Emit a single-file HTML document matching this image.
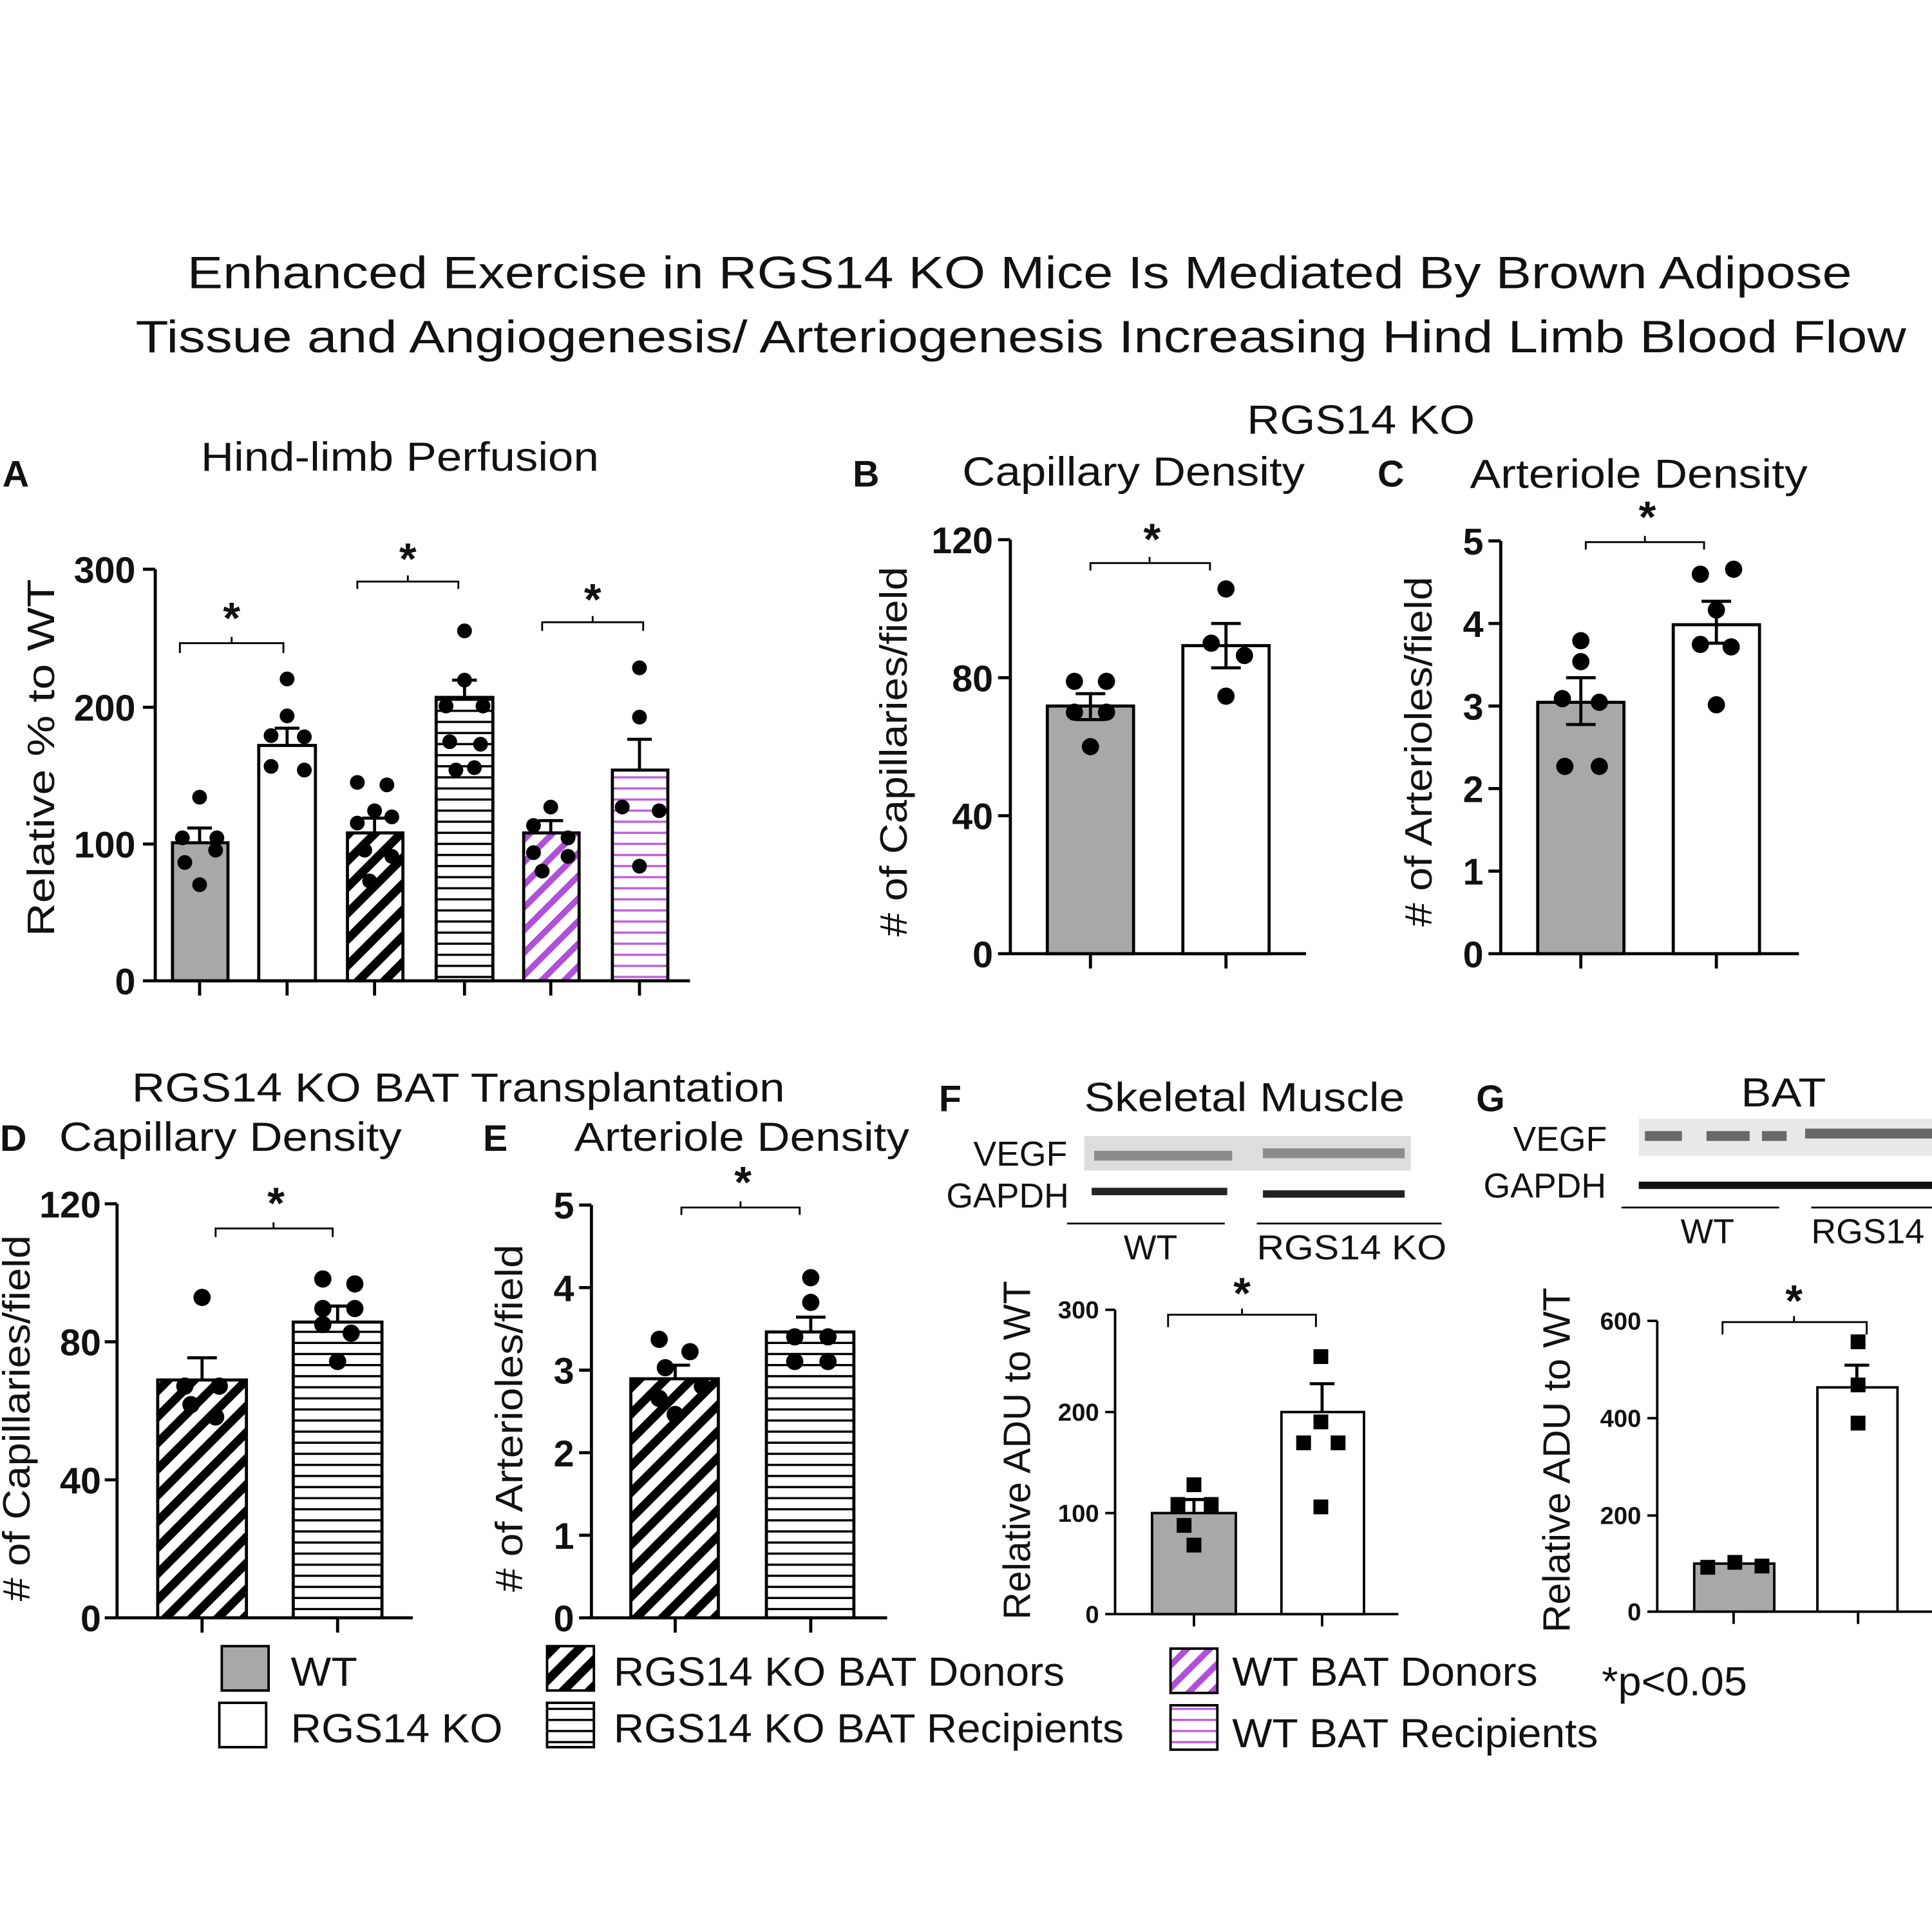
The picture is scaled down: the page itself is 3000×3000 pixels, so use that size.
<!DOCTYPE html>
<html><head><meta charset="utf-8"><style>
html,body{margin:0;padding:0;background:#fff}
svg{display:block}
text{font-family:"Liberation Sans",Arial,sans-serif;fill:#111}
</style></head><body>
<svg width="3000" height="3000" viewBox="0 0 1568 1568" xmlns="http://www.w3.org/2000/svg">
<defs>
<pattern id="diag" patternUnits="userSpaceOnUse" width="15" height="15" patternTransform="rotate(45)">
<rect width="15" height="15" fill="#fff"/><rect width="7" height="15" fill="#000"/></pattern>
<pattern id="horiz" patternUnits="userSpaceOnUse" width="10" height="9">
<rect width="10" height="9" fill="#fff"/><rect y="0" width="10" height="1.8" fill="#000"/></pattern>
<pattern id="pdiag" patternUnits="userSpaceOnUse" width="13" height="13" patternTransform="rotate(45)">
<rect width="13" height="13" fill="#fff"/><rect width="5" height="13" fill="#b04fd8"/></pattern>
<pattern id="phoriz" patternUnits="userSpaceOnUse" width="10" height="9">
<rect width="10" height="9" fill="#fff"/><rect width="10" height="1.8" fill="#c060e0"/></pattern>
</defs>
<g font-size="37" lengthAdjust="spacingAndGlyphs">
<text x="152" y="234" textLength="1351" lengthAdjust="spacingAndGlyphs">Enhanced Exercise in RGS14 KO Mice Is Mediated By Brown Adipose</text>
<text x="110" y="286" textLength="1437" lengthAdjust="spacingAndGlyphs">Tissue and  Angiogenesis/ Arteriogenesis Increasing Hind Limb Blood Flow</text>
</g>
<g font-size="33">
<text x="163" y="382" textLength="323" lengthAdjust="spacingAndGlyphs">Hind-limb Perfusion</text>
<text x="1012" y="352" textLength="185" lengthAdjust="spacingAndGlyphs">RGS14 KO</text>
<text x="781" y="394" textLength="278" lengthAdjust="spacingAndGlyphs">Capillary Density</text>
<text x="1193" y="396" textLength="274" lengthAdjust="spacingAndGlyphs">Arteriole Density</text>
<text x="107" y="894" textLength="530" lengthAdjust="spacingAndGlyphs">RGS14 KO BAT Transplantation</text>
<text x="48" y="934" textLength="278" lengthAdjust="spacingAndGlyphs">Capillary Density</text>
<text x="466" y="934" textLength="272" lengthAdjust="spacingAndGlyphs">Arteriole Density</text>
<text x="880" y="902" textLength="260" lengthAdjust="spacingAndGlyphs">Skeletal Muscle</text>
<text x="1413" y="898" textLength="69" lengthAdjust="spacingAndGlyphs">BAT</text>
</g>
<g font-size="30" font-weight="bold">
<text x="2" y="395">A</text><text x="692" y="395">B</text><text x="1118" y="395">C</text>
<text x="0" y="934">D</text><text x="392" y="934">E</text><text x="762" y="902">F</text><text x="1198" y="902">G</text>
</g>
<g stroke="#000" stroke-width="2.5" fill="none">
<path d="M126 462V796H560M116 462H126M116 574H126M116 685H126M116 796H126M162 796V808M233 796V808M304 796V808M377 796V808M447 796V808M519 796V808"/>
<path d="M820 438V774M810 438H820M810 550H820M810 662H820M810 774H820M820 774H1060M885 774V786M995 774V786"/>
<path d="M1218 439V774M1208 439H1218M1208 506H1218M1208 573H1218M1208 640H1218M1208 707H1218M1208 774H1218M1218 774H1460M1283 774V786M1393 774V786"/>
<path d="M95 977V1313M85 977H95M85 1089H95M85 1201H95M85 1313H95M95 1313H335M164 1313V1325M274 1313V1325"/>
<path d="M480 978V1313M470 978H480M470 1045H480M470 1112H480M470 1179H480M470 1246H480M470 1313H480M480 1313H720M548 1313V1325M658 1313V1325"/>
<path stroke-width="2" d="M905 1063V1310M897 1063H905M897 1146H905M897 1228H905M897 1310H905M905 1310H1135M969 1310V1320M1073 1310V1320"/>
<path stroke-width="2" d="M1345 1072V1308M1337 1072H1345M1337 1151H1345M1337 1230H1345M1337 1308H1345M1345 1308H1568M1407 1308V1318M1508 1308V1318"/>
<path stroke-width="1.5" d="M146 530V522H230V530M188 522V517M290 478V472H372V478M331 472V467M440 512V505H522V512M481 505V500M885 463V457H982V463M933 457V452M1287 446V440H1383V446M1335 440V435M175 1004V997H270V1004M222 997V992M553 986V980H649V986M601 980V975M948 1077V1067H1068V1077M1008 1067V1062M1398 1083V1073H1515V1083M1456 1073V1068"/>
<path stroke-width="1.5" d="M866 993H994M1020 993H1170M1316 980H1444M1470 980H1568"/>
</g>
<g font-size="30" font-weight="bold" text-anchor="end">
<text x="110" y="473">300</text><text x="110" y="585">200</text><text x="110" y="696">100</text><text x="110" y="807">0</text>
<text x="806" y="449">120</text><text x="806" y="561">80</text><text x="806" y="673">40</text><text x="806" y="785">0</text>
<text x="1204" y="450">5</text><text x="1204" y="517">4</text><text x="1204" y="584">3</text><text x="1204" y="651">2</text><text x="1204" y="718">1</text><text x="1204" y="785">0</text>
<text x="82" y="988">120</text><text x="82" y="1100">80</text><text x="82" y="1212">40</text><text x="82" y="1324">0</text>
<text x="466" y="989">5</text><text x="466" y="1056">4</text><text x="466" y="1123">3</text><text x="466" y="1190">2</text><text x="466" y="1257">1</text><text x="466" y="1324">0</text>
</g>
<g font-size="20" font-weight="bold" text-anchor="end">
<text x="892" y="1070">300</text><text x="892" y="1153">200</text><text x="892" y="1235">100</text><text x="892" y="1317">0</text>
<text x="1332" y="1079">600</text><text x="1332" y="1158">400</text><text x="1332" y="1237">200</text><text x="1332" y="1315">0</text>
</g>
<g font-size="31" text-anchor="middle">
<text transform="translate(44 615) rotate(-90)" textLength="290" lengthAdjust="spacingAndGlyphs">Relative % to WT</text>
<text transform="translate(736 610) rotate(-90)" textLength="300" lengthAdjust="spacingAndGlyphs"># of Capillaries/field</text>
<text transform="translate(1162 610) rotate(-90)" textLength="284" lengthAdjust="spacingAndGlyphs"># of Arterioles/field</text>
<text transform="translate(24 1151) rotate(-90)" textLength="297" lengthAdjust="spacingAndGlyphs"># of Capillaries/field</text>
<text transform="translate(424 1151) rotate(-90)" textLength="282" lengthAdjust="spacingAndGlyphs"># of Arterioles/field</text>
<text transform="translate(836 1177) rotate(-90)" textLength="275" lengthAdjust="spacingAndGlyphs">Relative ADU to WT</text>
<text transform="translate(1274 1185) rotate(-90)" textLength="280" lengthAdjust="spacingAndGlyphs">Relative ADU to WT</text>
</g>
<g font-size="36" font-weight="bold" text-anchor="middle">
<text x="188" y="514">*</text><text x="331" y="466">*</text><text x="481" y="499">*</text>
<text x="935" y="450">*</text><text x="1337" y="432">*</text><text x="224" y="989">*</text><text x="603" y="972">*</text>
<text x="1008" y="1062">*</text><text x="1456" y="1068">*</text>
</g>
<g stroke="#000" stroke-width="2.5">
<rect x="140" y="684" width="45" height="112" fill="#a8a8a8"/>
<rect x="210" y="605" width="46" height="191" fill="#fff"/>
<rect x="282" y="676" width="45" height="120" fill="url(#diag)"/>
<rect x="354" y="566" width="46" height="230" fill="url(#horiz)"/>
<rect x="425" y="676" width="45" height="120" fill="url(#pdiag)"/>
<rect x="497" y="625" width="45" height="171" fill="url(#phoriz)"/>
<rect x="850" y="573" width="70" height="201" fill="#a8a8a8"/>
<rect x="960" y="524" width="70" height="250" fill="#fff"/>
<rect x="1248" y="570" width="70" height="204" fill="#a8a8a8"/>
<rect x="1358" y="507" width="70" height="267" fill="#fff"/>
<rect x="128" y="1120" width="72" height="193" fill="url(#diag)"/>
<rect x="238" y="1073" width="72" height="240" fill="url(#horiz)"/>
<rect x="512" y="1119" width="71" height="194" fill="url(#diag)"/>
<rect x="622" y="1081" width="71" height="232" fill="url(#horiz)"/>
<rect x="935" y="1228" width="68" height="82" fill="#a8a8a8" stroke-width="2"/>
<rect x="1040" y="1146" width="67" height="164" fill="#fff" stroke-width="2"/>
<rect x="1375" y="1269" width="65" height="39" fill="#a8a8a8" stroke-width="2"/>
<rect x="1475" y="1126" width="65" height="182" fill="#fff" stroke-width="2"/>
</g>
<g stroke="#000" stroke-width="2.5" fill="none">
<path d="M162 684V672M152 672H172M233 605V591M223 591H243M304 676V664M294 664H314M377 566V552M367 552H387M447 676V666M437 666H457M519 625V600M509 600H529"/>
<path d="M885 573V563M873 563H897M885 573V584M873 584H897M995 524V506M983 506H1007M995 524V542M983 542H1007"/>
<path d="M1283 570V550M1271 550H1295M1283 570V588M1271 588H1295M1393 507V488M1381 488H1405M1393 507V522M1381 522H1405"/>
<path d="M164 1120V1102M152 1102H176M274 1073V1060M262 1060H286M548 1119V1108M536 1108H560M658 1081V1069M646 1069H670"/>
<path d="M969 1228V1217M959 1217H979M1073 1146V1123M1063 1123H1083M1507 1126V1108M1497 1108H1517"/>
</g>
<g fill="#000">
<circle cx="162" cy="647" r="6"/><circle cx="148" cy="680" r="6"/><circle cx="176" cy="680" r="6"/><circle cx="150" cy="700" r="6"/><circle cx="175" cy="690" r="6"/><circle cx="162" cy="718" r="6"/>
<circle cx="233" cy="551" r="6"/><circle cx="220" cy="597" r="6"/><circle cx="247" cy="598" r="6"/><circle cx="220" cy="622" r="6"/><circle cx="247" cy="625" r="6"/><circle cx="233" cy="581" r="6"/>
<circle cx="290" cy="635" r="6"/><circle cx="314" cy="637" r="6"/><circle cx="304" cy="658" r="6"/><circle cx="290" cy="668" r="6"/><circle cx="318" cy="663" r="6"/><circle cx="296" cy="690" r="6"/><circle cx="318" cy="695" r="6"/><circle cx="300" cy="715" r="6"/>
<circle cx="377" cy="512" r="6"/><circle cx="377" cy="552" r="6"/><circle cx="362" cy="573" r="6"/><circle cx="392" cy="573" r="6"/><circle cx="365" cy="602" r="6"/><circle cx="390" cy="604" r="6"/><circle cx="370" cy="625" r="6"/><circle cx="385" cy="623" r="6"/>
<circle cx="447" cy="655" r="6"/><circle cx="433" cy="670" r="6"/><circle cx="461" cy="680" r="6"/><circle cx="433" cy="692" r="6"/><circle cx="461" cy="695" r="6"/><circle cx="440" cy="707" r="6"/>
<circle cx="519" cy="542" r="6"/><circle cx="519" cy="582" r="6"/><circle cx="505" cy="655" r="6"/><circle cx="535" cy="658" r="6"/><circle cx="519" cy="703" r="6"/>
<circle cx="872" cy="553" r="7"/><circle cx="898" cy="553" r="7"/><circle cx="872" cy="578" r="7"/><circle cx="898" cy="578" r="7"/><circle cx="885" cy="606" r="7"/>
<circle cx="995" cy="478" r="7"/><circle cx="983" cy="522" r="7"/><circle cx="1010" cy="532" r="7"/><circle cx="995" cy="565" r="7"/>
<circle cx="1283" cy="520" r="7"/><circle cx="1283" cy="537" r="7"/><circle cx="1268" cy="567" r="7"/><circle cx="1298" cy="570" r="7"/><circle cx="1270" cy="622" r="7"/><circle cx="1298" cy="622" r="7"/>
<circle cx="1380" cy="466" r="7"/><circle cx="1407" cy="462" r="7"/><circle cx="1393" cy="495" r="7"/><circle cx="1380" cy="523" r="7"/><circle cx="1405" cy="525" r="7"/><circle cx="1393" cy="572" r="7"/>
<circle cx="164" cy="1053" r="7"/><circle cx="150" cy="1125" r="7"/><circle cx="178" cy="1125" r="7"/><circle cx="155" cy="1140" r="7"/><circle cx="175" cy="1150" r="7"/>
<circle cx="262" cy="1038" r="7"/><circle cx="288" cy="1042" r="7"/><circle cx="262" cy="1062" r="7"/><circle cx="288" cy="1062" r="7"/><circle cx="262" cy="1075" r="7"/><circle cx="285" cy="1082" r="7"/><circle cx="274" cy="1105" r="7"/>
<circle cx="535" cy="1087" r="7"/><circle cx="560" cy="1097" r="7"/><circle cx="540" cy="1110" r="7"/><circle cx="570" cy="1125" r="7"/><circle cx="535" cy="1135" r="7"/><circle cx="548" cy="1148" r="7"/>
<circle cx="658" cy="1037" r="7"/><circle cx="658" cy="1057" r="7"/><circle cx="645" cy="1085" r="7"/><circle cx="672" cy="1085" r="7"/><circle cx="645" cy="1105" r="7"/><circle cx="672" cy="1105" r="7"/>
<rect x="963" y="1199" width="12" height="12"/><rect x="950" y="1215" width="12" height="12"/><rect x="977" y="1215" width="12" height="12"/><rect x="955" y="1232" width="12" height="12"/><rect x="963" y="1248" width="12" height="12"/>
<rect x="1066" y="1095" width="12" height="12"/><rect x="1066" y="1148" width="12" height="12"/><rect x="1052" y="1165" width="12" height="12"/><rect x="1080" y="1165" width="12" height="12"/><rect x="1066" y="1217" width="12" height="12"/>
<rect x="1380" y="1266" width="12" height="12"/><rect x="1402" y="1262" width="12" height="12"/><rect x="1424" y="1265" width="12" height="12"/>
<rect x="1502" y="1083" width="12" height="12"/><rect x="1502" y="1118" width="12" height="12"/><rect x="1502" y="1149" width="12" height="12"/>
</g>
<rect x="880" y="922" width="265" height="28" fill="#ddd"/>
<path d="M888 938H1000M1025 936H1140" stroke="#555" stroke-width="8" opacity="0.6"/>
<path d="M886 967H996M1025 969H1140" stroke="#222" stroke-width="6"/>
<rect x="1330" y="908" width="238" height="30" fill="#e8e8e8"/>
<path d="M1335 922H1365M1385 922H1420M1430 922H1450M1465 920H1568" stroke="#333" stroke-width="8" opacity="0.7"/>
<path d="M1330 962H1568" stroke="#111" stroke-width="6"/>
<g font-size="28">
<text x="790" y="946">VEGF</text><text x="768" y="980">GAPDH</text>
<text x="912" y="1022">WT</text><text x="1020" y="1022" textLength="154" lengthAdjust="spacingAndGlyphs">RGS14 KO</text>
<text x="1228" y="934">VEGF</text><text x="1204" y="972">GAPDH</text>
<text x="1364" y="1009">WT</text><text x="1470" y="1009">RGS14</text>
</g>
<g stroke="#000" stroke-width="2">
<rect x="180" y="1336" width="38" height="36" fill="#a8a8a8"/>
<rect x="178" y="1382" width="38" height="36" fill="#fff"/>
<rect x="444" y="1336" width="38" height="36" fill="url(#diag)"/>
<rect x="444" y="1382" width="38" height="36" fill="url(#horiz)"/>
<rect x="950" y="1338" width="38" height="36" fill="url(#pdiag)"/>
<rect x="950" y="1384" width="38" height="36" fill="url(#phoriz)"/>
</g>
<g font-size="33">
<text x="236" y="1368" textLength="54" lengthAdjust="spacingAndGlyphs">WT</text>
<text x="236" y="1414" textLength="172" lengthAdjust="spacingAndGlyphs">RGS14 KO</text>
<text x="498" y="1368" textLength="366" lengthAdjust="spacingAndGlyphs">RGS14 KO BAT Donors</text>
<text x="498" y="1414" textLength="414" lengthAdjust="spacingAndGlyphs">RGS14 KO BAT Recipients</text>
<text x="1000" y="1368" textLength="248" lengthAdjust="spacingAndGlyphs">WT BAT Donors</text>
<text x="1000" y="1418" textLength="297" lengthAdjust="spacingAndGlyphs">WT BAT Recipients</text>
<text x="1300" y="1376" textLength="118" lengthAdjust="spacingAndGlyphs">*p&lt;0.05</text>
</g>
</svg>
</body></html>
